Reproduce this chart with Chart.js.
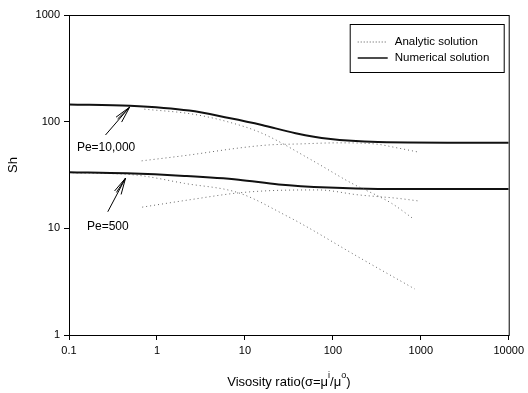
<!DOCTYPE html>
<html>
<head>
<meta charset="utf-8">
<script src="https://cdn.jsdelivr.net/npm/chart.js@4/dist/chart.umd.min.js"></script>
<style>
    html, body { margin: 0; padding: 0; background: #fff; }
    #wrap { width: 528px; height: 393px; }
</style>
</head>
<body>
<div id="wrap"><canvas id="shChart" width="528" height="393"></canvas></div>
<script>
// Axis ticks
const xTicks = [0.1, 1, 10, 100, 1000, 10000]
const yTicks = [1, 10, 100, 1000]

// Pe = 10,000
const sigmaNum10k = [0.1, 0.49, 2.33, 6.6, 15.6, 37.7, 89, 327, 10000]
const shNum10k = [145, 141, 127, 108, 93, 78, 69, 64.6, 63.5]
const sigmaSmall10k = [0.72, 2.5, 6.6, 15.6, 57, 162, 458, 834]
const shSmall10k = [131, 118, 99, 78, 43.8, 26.6, 17.3, 12.2]
const sigmaLarge10k = [0.67, 2.33, 8.5, 18.7, 40.7, 115, 302, 550, 925]
const shLarge10k = [42.9, 48.7, 56.6, 60.5, 61.8, 63.3, 61.8, 56.6, 52]

// Pe = 500
const sigmaNum500 = [0.1, 0.45, 2.05, 8.5, 24.2, 89, 327, 10000]
const shNum500 = [33.6, 32.8, 31, 28.6, 25.8, 24.1, 23.4, 23.4]
const sigmaSmall500 = [0.11, 0.59, 2.05, 8.5, 31.4, 48.9, 194, 855]
const shSmall500 = [33.2, 31.5, 26.4, 21.5, 12.8, 10.5, 5.4, 2.7]
const sigmaLarge500 = [0.68, 2.33, 8.5, 24.2, 68.5, 194, 550, 925]
const shLarge500 = [15.8, 18.5, 21.5, 22.7, 22.9, 20.6, 19.1, 18.1]

// Labels with arrows (data units)
const peLabels = ['Pe=10,000', 'Pe=500']
const labelAt = [{ x: 0.123, y: 56.8 }, { x: 0.16, y: 10.3 }]
const arrowTips = [{ x: 0.49, y: 137 }, { x: 0.44, y: 29.6 }]
const arrowTails = [{ x: 0.26, y: 75 }, { x: 0.276, y: 14.3 }]

const legendLabels = ['Analytic solution', 'Numerical solution']

const FONT = 'Arial, "Liberation Sans", Helvetica, sans-serif'

function toPoints(xs, ys) {
    return xs.map((x, i) => ({ x, y: ys[i] }))
}

function solid(data) {
    return {
        data,
        borderColor: '#111',
        borderWidth: 2,
        pointRadius: 0,
        cubicInterpolationMode: 'monotone'
    }
}

function dotted(data) {
    return {
        data,
        borderColor: '#666',
        borderWidth: 1,
        borderDash: [1, 3],
        pointRadius: 0,
        cubicInterpolationMode: 'monotone'
    }
}

const decorations = {
    id: 'decorations',
    afterDraw(chart) {
        const { ctx, chartArea, scales } = chart
        const xs = scales.x
        const ys = scales.y
        ctx.save()

        // frame
        ctx.strokeStyle = '#000'
        ctx.lineWidth = 1
        ctx.strokeRect(chartArea.left + 0.5, chartArea.top + 0.5,
            chartArea.right - chartArea.left, chartArea.bottom - chartArea.top)

        // Pe labels and arrows
        ctx.fillStyle = '#000'
        ctx.font = '12px ' + FONT
        ctx.textBaseline = 'middle'
        ctx.textAlign = 'left'
        peLabels.forEach((text, i) => {
            ctx.fillText(text, xs.getPixelForValue(labelAt[i].x), ys.getPixelForValue(labelAt[i].y))
            const tx = xs.getPixelForValue(arrowTips[i].x)
            const ty = ys.getPixelForValue(arrowTips[i].y)
            const sx = xs.getPixelForValue(arrowTails[i].x)
            const sy = ys.getPixelForValue(arrowTails[i].y)
            const ang = Math.atan2(sy - ty, sx - tx)
            ctx.beginPath()
            ctx.moveTo(sx, sy)
            ctx.lineTo(tx, ty)
            ;[-0.22, 0.08, 0.22].forEach(d => {
                ctx.moveTo(tx, ty)
                ctx.lineTo(tx + 17 * Math.cos(ang + d), ty + 17 * Math.sin(ang + d))
            })
            ctx.lineWidth = 1
            ctx.stroke()
        })

        // legend box
        const bx = chartArea.right - 159
        const by = chartArea.top + 9
        ctx.strokeRect(bx + 0.5, by + 0.5, 154, 48)
        ctx.font = '11.5px ' + FONT
        legendLabels.forEach((text, i) => {
            const ly = by + 18 + i * 16
            ctx.beginPath()
            ctx.moveTo(bx + 8, ly)
            ctx.lineTo(bx + 38, ly)
            if (i === 0) {
                ctx.setLineDash([1, 2])
                ctx.strokeStyle = '#555'
                ctx.lineWidth = 1
            } else {
                ctx.setLineDash([])
                ctx.strokeStyle = '#111'
                ctx.lineWidth = 1.5
            }
            ctx.stroke()
            ctx.setLineDash([])
            ctx.fillText(text, bx + 45, ly)
        })

        // y title
        ctx.save()
        ctx.translate(13, (chartArea.top + chartArea.bottom) / 2 - 10)
        ctx.rotate(-Math.PI / 2)
        ctx.textAlign = 'center'
        ctx.font = '13px ' + FONT
        ctx.fillText('Sh', 0, 0)
        ctx.restore()

        // x title with superscripts
        const parts = [['Visosity ratio(σ=μ', false], ['i', true], ['/μ', false], ['o', true], [')', false]]
        const big = '13px ' + FONT
        const small = '9px ' + FONT
        let total = 0
        parts.forEach(([t, sup]) => {
            ctx.font = sup ? small : big
            total += ctx.measureText(t).width
        })
        let px = (chartArea.left + chartArea.right) / 2 - total / 2
        const py = 382
        ctx.textAlign = 'left'
        parts.forEach(([t, sup]) => {
            ctx.font = sup ? small : big
            ctx.fillText(t, px, sup ? py - 6 : py)
            px += ctx.measureText(t).width
        })

        ctx.restore()
    }
}

new Chart(document.getElementById('shChart'), {
    type: 'line',
    data: {
        datasets: [
            solid(toPoints(sigmaNum10k, shNum10k)),
            dotted(toPoints(sigmaSmall10k, shSmall10k)),
            dotted(toPoints(sigmaLarge10k, shLarge10k)),
            solid(toPoints(sigmaNum500, shNum500)),
            dotted(toPoints(sigmaSmall500, shSmall500)),
            dotted(toPoints(sigmaLarge500, shLarge500))
        ]
    },
    options: {
        responsive: false,
        animation: false,
        devicePixelRatio: 1,
        layout: { padding: { top: 15, right: 17, left: 0, bottom: 0 } },
        plugins: {
            legend: { display: false },
            tooltip: { enabled: false }
        },
        scales: {
            x: {
                type: 'logarithmic',
                min: 0.1,
                max: 10000,
                afterBuildTicks: scale => { scale.ticks = xTicks.map(v => ({ value: v })) },
                afterFit: scale => { scale.height = 58 },
                grid: { drawOnChartArea: false, tickLength: 5, color: '#000' },
                border: { color: '#000', width: 1 },
                ticks: {
                    autoSkip: false,
                    maxRotation: 0,
                    padding: 4,
                    color: '#000',
                    font: { size: 11, family: FONT },
                    callback: value => String(value)
                }
            },
            y: {
                type: 'logarithmic',
                min: 1,
                max: 1000,
                afterBuildTicks: scale => { scale.ticks = yTicks.map(v => ({ value: v })) },
                afterFit: scale => { scale.width = 69 },
                grid: { drawOnChartArea: false, tickLength: 5, color: '#000' },
                border: { color: '#000', width: 1 },
                ticks: {
                    autoSkip: false,
                    padding: 4,
                    color: '#000',
                    font: { size: 11, family: FONT },
                    callback: value => String(value)
                }
            }
        }
    },
    plugins: [decorations]
})
</script>
</body>
</html>
